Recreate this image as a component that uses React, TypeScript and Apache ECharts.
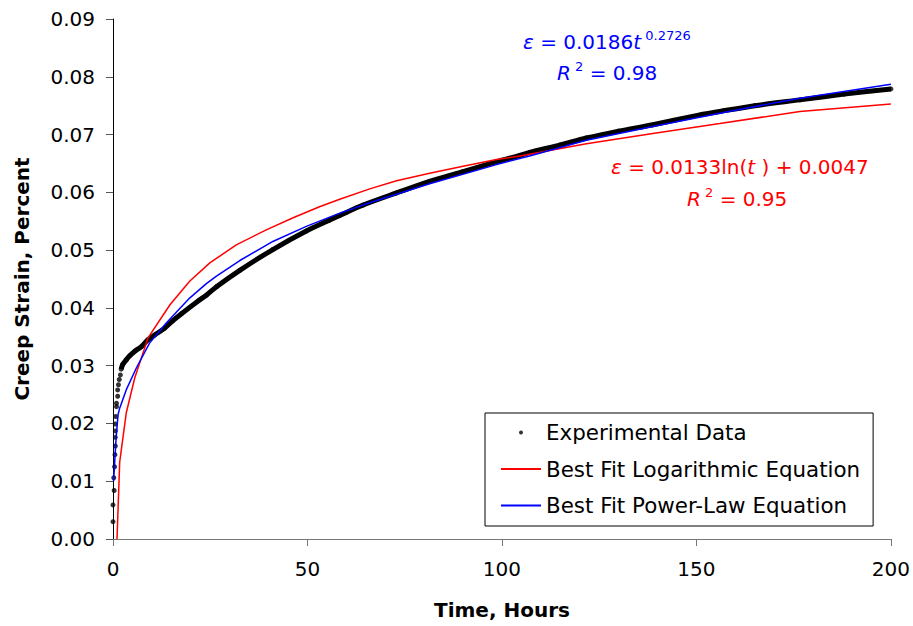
import React, { useEffect, useRef } from "react";
import * as echarts from "echarts";

const FONT = '"DejaVu Sans", Verdana, sans-serif';

// Experimental creep data (time in hours, strain in percent)
const expTime = [0, 0, 0.3, 0.2, 0.4, 0.5, 0.6, 0.6, 0.6, 0.6, 0.7, 0.9, 0.9, 1.2, 1.2, 1.4, 1.6, 1.9, 2.1, 2.5, 3.4, 4.3, 5.6, 7.3, 9.0, 10.7, 13.3, 15.4, 17.6, 21.9, 24.0, 26.7, 32.6, 41.1, 49.7, 55.7, 58.3, 64.3, 72.9, 81.4, 90.0, 98.6, 104.6, 107.1, 115.0, 121.7, 130.0, 138.8, 150.9, 156.0, 165.0, 176.6, 188.0, 200.0];
const expStrain = [0.0030, 0.0059, 0.0084, 0.0106, 0.0125, 0.0146, 0.0161, 0.0176, 0.0187, 0.0199, 0.0212, 0.0229, 0.0235, 0.0247, 0.0258, 0.0267, 0.0276, 0.0284, 0.0294, 0.0302, 0.0310, 0.0317, 0.0325, 0.0333, 0.0345, 0.0353, 0.0365, 0.0378, 0.0390, 0.0412, 0.0422, 0.0437, 0.0465, 0.0501, 0.0533, 0.0552, 0.0560, 0.0578, 0.0599, 0.0619, 0.0636, 0.0653, 0.0664, 0.0669, 0.0682, 0.0694, 0.0706, 0.0717, 0.0734, 0.0740, 0.0750, 0.0760, 0.0770, 0.0779];

// Best fit logarithmic curve
const logTime = [1.03, 1.72, 3.4, 5.6, 9.0, 14.6, 19.7, 24.9, 31.7, 39.4, 46.3, 53.1, 58.3, 66.0, 72.9, 81.4, 90.0, 98.6, 104.6, 121.7, 138.8, 156.0, 176.6, 200.0];
const logStrain = [0.0, 0.0133, 0.0218, 0.0279, 0.0348, 0.0405, 0.0446, 0.0478, 0.0509, 0.0535, 0.0556, 0.0575, 0.0588, 0.0606, 0.0620, 0.0633, 0.0645, 0.0657, 0.0663, 0.0684, 0.0702, 0.0719, 0.0740, 0.0753];

// Best fit power-law curve
const powTime = [0.15, 0.8, 1.3, 1.7, 3.4, 6.0, 9.4, 13.7, 19.7, 24.0, 26.6, 32.6, 41.1, 49.7, 58.3, 66.0, 81.4, 98.6, 107.1, 121.7, 138.8, 156.0, 176.6, 200.0];
const powStrain = [0.0100, 0.0175, 0.0215, 0.0226, 0.0258, 0.0296, 0.0339, 0.0374, 0.0417, 0.0442, 0.0455, 0.0482, 0.0515, 0.0541, 0.0564, 0.0582, 0.0615, 0.0648, 0.0663, 0.0690, 0.0714, 0.0737, 0.0763, 0.0787];

const xTicks = [0, 50, 100, 150, 200];
const yTicks = [0, 0.01, 0.02, 0.03, 0.04, 0.05, 0.06, 0.07, 0.08, 0.09];

const seriesNames = ["Experimental Data", "Best Fit Logarithmic Equation", "Best Fit Power-Law Equation"];

const pair = (xs: number[], ys: number[]) => xs.map((x, i) => [x, ys[i]]);

export default function App() {
  const ref = useRef<HTMLDivElement>(null);

  useEffect(() => {
    if (!ref.current) return;
    const chart = echarts.init(ref.current, undefined, { renderer: "svg" });
    const expData = pair(expTime, expStrain);
    const bandData = expData.filter((p) => p[0] >= 2);

    const richMain = {
      i: { fontStyle: "italic", fontSize: 20, fontFamily: FONT },
      sup: { fontSize: 13, fontFamily: FONT, padding: [0, 0, 14, 0] },
    };

    chart.setOption({
      animation: false,
      backgroundColor: "#ffffff",
      grid: { left: 113, right: 22, top: 19, bottom: 87 },
      xAxis: {
        type: "value",
        min: xTicks[0],
        max: xTicks[xTicks.length - 1],
        interval: 50,
        name: "Time, Hours",
        nameLocation: "middle",
        nameGap: 61,
        nameTextStyle: { fontFamily: FONT, fontSize: 20, fontWeight: "bold", color: "#000" },
        axisLine: { lineStyle: { color: "#777", width: 1 } },
        axisTick: { length: 7, lineStyle: { color: "#777" } },
        axisLabel: { fontFamily: FONT, fontSize: 20, color: "#000", margin: 20 },
        splitLine: { show: false },
      },
      yAxis: {
        type: "value",
        min: yTicks[0],
        max: yTicks[yTicks.length - 1],
        interval: 0.01,
        name: "Creep Strain, Percent",
        nameLocation: "middle",
        nameRotate: 90,
        nameGap: 81,
        nameTextStyle: { fontFamily: FONT, fontSize: 20, fontWeight: "bold", color: "#000" },
        axisLine: { show: true, lineStyle: { color: "#000", width: 1 } },
        axisTick: { show: true, length: 7, lineStyle: { color: "#555" } },
        axisLabel: {
          fontFamily: FONT,
          fontSize: 20,
          color: "#000",
          margin: 18,
          formatter: (v: number) => v.toFixed(2),
        },
        splitLine: { show: false },
      },
      legend: {
        show: true,
        orient: "vertical",
        left: 485,
        top: 413,
        padding: [9, 13, 10, 15],
        itemGap: 15.5,
        itemWidth: 40,
        itemHeight: 4,
        borderColor: "#000",
        borderWidth: 1,
        backgroundColor: "#fff",
        textStyle: { fontFamily: FONT, fontSize: 21.4, color: "#000", lineHeight: 20 },
        data: [
          { name: seriesNames[0], icon: "circle" },
          { name: seriesNames[1], itemStyle: { opacity: 0 } },
          { name: seriesNames[2], itemStyle: { opacity: 0 } },
        ],
      },
      graphic: [
        {
          type: "text",
          x: 523,
          y: 42,
          style: {
            text: "{i|ε} = 0.0186{i|t}{sup| 0.2726}",
            fill: "#0000FF",
            font: `20px ${FONT}`,
            verticalAlign: "middle",
            rich: richMain,
          },
        },
        {
          type: "text",
          x: 557,
          y: 73,
          style: {
            text: "{i|R}{sup| 2} = 0.98",
            fill: "#0000FF",
            font: `20px ${FONT}`,
            verticalAlign: "middle",
            rich: richMain,
          },
        },
        {
          type: "text",
          x: 611,
          y: 167,
          style: {
            text: "{i|ε} = 0.0133ln({i|t} ) + 0.0047",
            fill: "#FF0000",
            font: `20px ${FONT}`,
            verticalAlign: "middle",
            rich: richMain,
          },
        },
        {
          type: "text",
          x: 687,
          y: 199,
          style: {
            text: "{i|R}{sup| 2} = 0.95",
            fill: "#FF0000",
            font: `20px ${FONT}`,
            verticalAlign: "middle",
            rich: richMain,
          },
        },
      ],
      series: [
        {
          name: seriesNames[0] + " band",
          type: "line",
          data: bandData,
          symbol: "none",
          smooth: 0.3,
          silent: true,
          lineStyle: { color: "#000", width: 5 },
          z: 2,
        },
        {
          name: seriesNames[0],
          type: "scatter",
          data: expData,
          symbol: "circle",
          symbolSize: 5,
          itemStyle: { color: "#000" },
          z: 3,
        },
        {
          name: seriesNames[1],
          type: "line",
          data: pair(logTime, logStrain),
          symbol: "none",
          lineStyle: { color: "#FF0000", width: 1.5 },
          itemStyle: { color: "#FF0000" },
          z: 4,
        },
        {
          name: seriesNames[2],
          type: "line",
          data: pair(powTime, powStrain),
          symbol: "none",
          lineStyle: { color: "#0000FF", width: 1.5 },
          itemStyle: { color: "#0000FF" },
          z: 5,
        },
      ],
    });
    return () => chart.dispose();
  }, []);

  return <div ref={ref} style={{ width: 913, height: 626, position: "absolute", left: 0, top: 0 }} />;
}
